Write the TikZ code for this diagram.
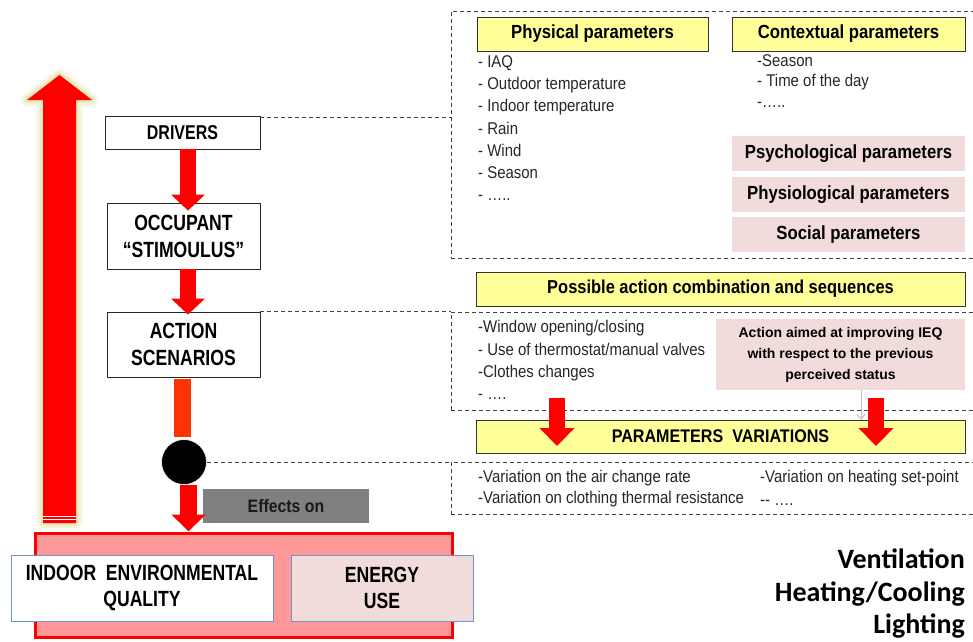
\documentclass[tikz,border=0pt]{standalone}
\usepackage{fontspec}
\setmainfont{Liberation Sans}
\newfontfamily\capfont[FakeStretch=0.8]{Liberation Sans}
\newfontfamily\hdfont[FakeStretch=0.88]{Liberation Sans}
\newfontfamily\calfont{Carlito}
\usetikzlibrary{arrows.meta}

\definecolor{hdyellow}{HTML}{FFFF99}
\definecolor{softpink}{HTML}{F2DCDB}
\definecolor{salmon}{HTML}{FF9999}
\definecolor{barorange}{HTML}{FF3300}
\definecolor{edgeblue}{HTML}{7094C8}
\definecolor{haze}{HTML}{D6D68A}
\definecolor{effgray}{HTML}{808080}

\begin{document}
\begin{tikzpicture}[x=1pt,y=-1pt,
  stage/.style={draw=black!85, line width=0.9pt, fill=white, align=center,
    inner sep=0pt, font={\capfont\bfseries\fontsize{22}{27}\selectfont}},
  outcome/.style={draw=edgeblue, line width=0.9pt, align=center, inner sep=0pt,
    font={\capfont\bfseries\fontsize{22}{26}\selectfont}},
  yhead/.style={draw=black!80, line width=1pt, fill=hdyellow, inner sep=0pt,
    font={\hdfont\bfseries\fontsize{19}{22}\selectfont}},
  phead/.style={fill=softpink, inner sep=0pt,
    font={\hdfont\bfseries\fontsize{19}{22}\selectfont}},
  panel/.style={draw=black!75, line width=0.9pt, dash pattern=on 4pt off 3pt, inner sep=0pt},
  link/.style={draw=black!75, line width=0.9pt, dash pattern=on 4pt off 3pt},
  lst/.style={anchor=west, inner sep=0pt, text=black!85, text height=12pt, text depth=3pt,
    font={\hdfont\fontsize{17}{20}\selectfont}},
  redflow/.style={draw=red, line width=16pt,
    -{Triangle[width=33pt,length=16pt]}},
  sideflow/.style={draw=red, line width=16pt,
    -{Triangle[width=34pt,length=18pt]}},
  hint/.style={draw=black!25, line width=1pt, -{Straight Barb[length=5pt,width=8pt]}},
  bigtext/.style={anchor=base east, inner sep=0pt,
    font={\calfont\bfseries\fontsize{28}{33}\selectfont}}
]
\useasboundingbox (0,0) rectangle (973,641);

% ---- rising feedback arrow with its soft halo
\def\upArrow{(43,523) -- (43,100) -- (27,100) -- (59.5,75) -- (92,100) -- (76,100) -- (76,523) -- cycle}
\foreach \w/\o in {14/0.12,10/0.18,6/0.25,3/0.35}
  \draw[haze, line width=\w pt, line join=round, opacity=\o] \upArrow;
\fill[red] \upArrow;
\draw[white, line width=0.8pt] (43,516.5) -- (76,516.5) (43,519.5) -- (76,519.5);

% ---- left column: the chain of stages
\node[stage, minimum width=155pt, minimum height=33pt,
  font={\capfont\bfseries\fontsize{20}{24}\selectfont}] (drivers) at (182.5,132.5) {DRIVERS};
\node[stage, minimum width=153pt, minimum height=66pt] (occupant) at (183.5,236) {OCCUPANT\\“STIMOULUS”};
\node[stage, minimum width=153pt, minimum height=65pt] (action) at (183.5,344.5) {ACTION\\SCENARIOS};
\node[circle, fill=black, draw=white, line width=0.6pt, minimum size=45pt, inner sep=0pt] (dot) at (184,462) {};

% ---- outcome block
\node[draw=red, line width=3pt, fill=salmon, minimum width=417pt, minimum height=104pt,
  inner sep=0pt] (outcomes) at (243.5,585) {};
\node[outcome, fill=white, minimum width=262pt, minimum height=66pt] (ieq) at (142,588)
  {INDOOR\ \ ENVIRONMENTAL\\QUALITY};
\node[outcome, fill=softpink, minimum width=182pt, minimum height=66pt] (energy) at (382,588)
  {ENERGY\\USE};
\node[fill=effgray, minimum width=166pt, minimum height=34pt, inner sep=0pt, text=black!90,
  font={\hdfont\bfseries\fontsize{18}{22}\selectfont}] (effects) at (286,506) {Effects on};

% ---- flow between the stages
\draw[redflow] ([xshift=5.5pt]drivers.south) -- ([xshift=4.5pt,yshift=-8pt]occupant.north);
\draw[redflow] ([xshift=4.5pt]occupant.south) -- ([xshift=4.5pt,yshift=-3pt]action.north);
\draw[barorange, line width=17pt] ([xshift=-1pt,yshift=-2pt]action.south) -- ([xshift=-1.5pt,yshift=2pt]dot.north);
\draw[draw=red, line width=17pt, -{Triangle[width=33pt,length=17pt]}] ([xshift=4.5pt]dot.south) -- ([xshift=4.5pt]dot.south |- outcomes.north);

% ---- right side: dashed panels
\node[panel, minimum width=534pt, minimum height=247pt] (drvpanel) at (718,134.5) {};
\node[panel, minimum width=534pt, minimum height=98pt] (actpanel) at (718,361) {};
\node[panel, minimum width=534pt, minimum height=52pt] (varpanel) at (718,488) {};

\draw[link] ([yshift=-2pt]drivers.north east) -- ([yshift=-2pt]drivers.north east -| drvpanel.west);
\draw[link] (action.north east) -- (actpanel.north west);
\draw[link] (dot.east) -- (dot.east -| varpanel.west);

% ---- driver parameters
\node[yhead, minimum width=231pt, minimum height=34pt] (phys) at (592.5,34) {Physical parameters};
\node[yhead, minimum width=233pt, minimum height=34pt] (ctx) at (848.5,34) {Contextual parameters};
\foreach \t [count=\i from 0] in {{- IAQ},{- Outdoor temperature},{- Indoor temperature},{- Rain},{- Wind},{- Season},{- …..}}
  \node[lst] (phys\i) at (478,{63+22.2*\i}) {\t};
\node[lst] (ctx0) at (757,62) {-Season};
\node[lst] (ctx1) at (757,82) {- Time of the day};
\node[lst] (ctx2) at (757,103) {-…..};
\node[phead, minimum width=233pt, minimum height=35pt] (psy) at (848.5,153.5) {Psychological parameters};
\node[phead, minimum width=233pt, minimum height=35pt] (physio) at (848.5,194.5) {Physiological parameters};
\node[phead, minimum width=233pt, minimum height=35pt] (soc) at (848.5,234.5) {Social parameters};

% ---- actions
\node[yhead, minimum width=489pt, minimum height=34pt,
  font={\hdfont\bfseries\fontsize{18.7}{22}\selectfont}] (combo) at (720.5,289) {Possible action combination and sequences};
\node[lst] (act0) at (478,328) {-Window opening/closing};
\node[lst] (act1) at (478,351) {- Use of thermostat/manual valves};
\node[lst] (act2) at (478,373) {-Clothes changes};
\node[lst] (act3) at (478,395) {- ….};
\node[fill=softpink, minimum width=249pt, minimum height=71pt, inner sep=0pt, align=center,
  font={\bfseries\fontsize{14}{21}\selectfont}] (aim) at (840.5,354.5)
  {Action aimed at improving IEQ\\with respect to the previous\\perceived status};

% ---- variations
\node[yhead, minimum width=489pt, minimum height=33pt,
  font={\hdfont\bfseries\fontsize{18.3}{22}\selectfont}] (pvar) at (720.5,436.5) {PARAMETERS\ \ VARIATIONS};
\coordinate (hintend) at (861,420);
\draw[hint] (aim.south -| hintend) -- (hintend);
\coordinate (lfs) at (557,398);
\coordinate (lfe) at (557,446);
\coordinate (rfs) at (876,398);
\coordinate (rfe) at (876,446);
\draw[sideflow] (lfs) -- (lfe);
\draw[sideflow] (rfs) -- (rfe);
\node[lst] (var0) at (478,478) {-Variation on the air change rate};
\node[lst] (var1) at (478,499) {-Variation on clothing thermal resistance};
\node[lst] (var2) at (760,478) {-Variation on heating set-point};
\node[lst] (var3) at (760,501) {-- ….};

% ---- systems affected
\node[bigtext] (vent) at (965,568) {Ventilation};
\node[bigtext] (heat) at (965,601) {Heating/Cooling};
\node[bigtext] (light) at (965,633.5) {Lighting};
\end{tikzpicture}
\end{document}
